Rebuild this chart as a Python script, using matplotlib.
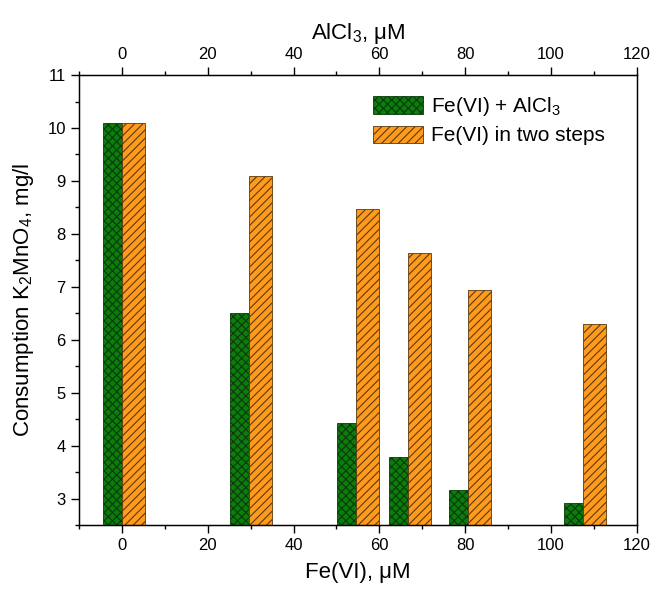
import matplotlib.pyplot as plt
from matplotlib.ticker import MultipleLocator

plt.rcParams['font.family'] = ['Liberation Sans', 'DejaVu Sans']
plt.rcParams['mathtext.fontset'] = 'custom'
plt.rcParams['mathtext.rm'] = 'Liberation Sans'
plt.rcParams['mathtext.it'] = 'Liberation Sans:italic'
plt.rcParams['hatch.linewidth'] = 0.8

fe_vi = [0, 29.5, 54.5, 66.7, 80.7, 107.5]
alcl3_consumption = [10.1, 6.5, 4.43, 3.79, 3.17, 2.91]
two_steps_consumption = [10.1, 9.1, 8.47, 7.64, 6.94, 6.30]

fig = plt.figure(figsize=(6.54, 5.92), dpi=100)
ax = fig.add_axes([0.1208, 0.1132, 0.853, 0.760])

ax.bar(fe_vi, alcl3_consumption, width=-4.4, align='edge',
       color='#0c7c0c', edgecolor='#0a3a0a', hatch='xxxx', linewidth=0.6,
       label='Fe(VI) + AlCl$_3$')
ax.bar(fe_vi, two_steps_consumption, width=5.4, align='edge',
       color='#ff9a1c', edgecolor='#5a3a10', hatch='////', linewidth=0.6,
       label='Fe(VI) in two steps')

ax.set_xlim(-10, 120)
ax.set_ylim(2.5, 11)
ax.xaxis.set_major_locator(MultipleLocator(20))
ax.xaxis.set_minor_locator(MultipleLocator(10))
ax.yaxis.set_major_locator(MultipleLocator(1))
ax.yaxis.set_minor_locator(MultipleLocator(0.5))
ax.tick_params(which='both', direction='out', labelsize=12, width=1)
ax.tick_params(which='major', length=6)
ax.tick_params(which='minor', length=3)
for s in ax.spines.values():
    s.set_linewidth(1)

ax.set_xlabel('Fe(VI), \u03bcM', fontsize=16, labelpad=6)
ax.set_ylabel('Consumption K$_2$MnO$_4$, mg/l', fontsize=16, labelpad=8)

# top axis (AlCl3)
ax2 = ax.twiny()
ax2.set_xlim(-10, 120)
ax2.xaxis.set_major_locator(MultipleLocator(20))
ax2.xaxis.set_minor_locator(MultipleLocator(10))
ax2.tick_params(which='both', direction='out', labelsize=12, width=1)
ax2.tick_params(which='major', length=6)
ax2.tick_params(which='minor', length=3)
ax2.set_xlabel('AlCl$_3$, \u03bcM', fontsize=16, labelpad=6)

ax.legend(loc='upper left', bbox_to_anchor=(0.527, 0.955), frameon=False,
          fontsize=15, handlelength=2.4, handleheight=0.9, labelspacing=0.35,
          handletextpad=0.4, borderaxespad=0, borderpad=0)

fig.savefig('out.png', dpi=100)
